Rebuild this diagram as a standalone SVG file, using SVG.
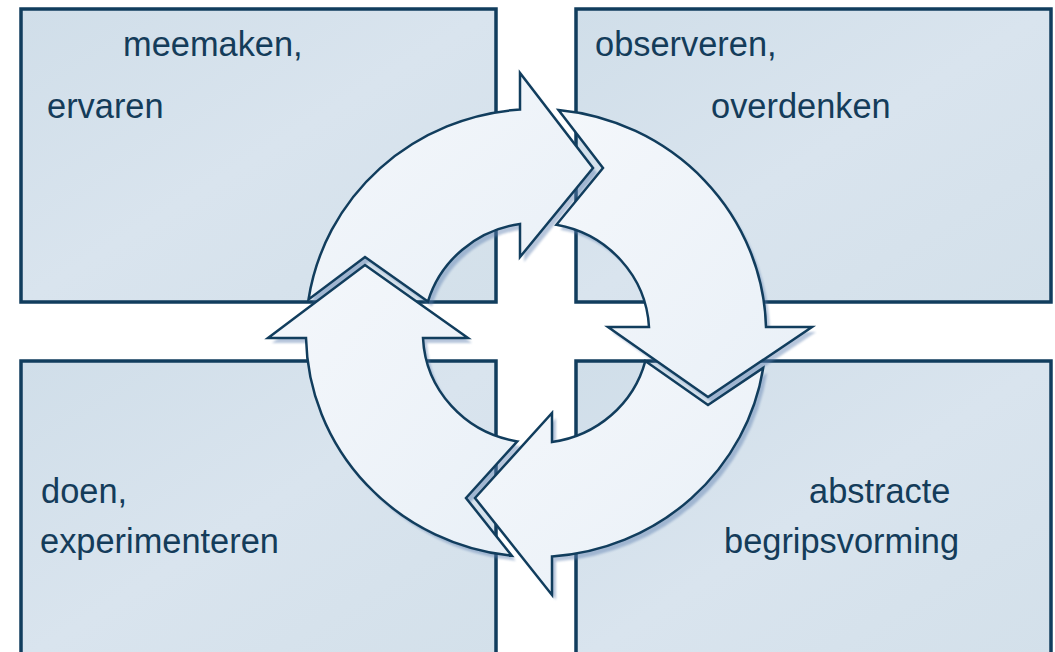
<svg xmlns="http://www.w3.org/2000/svg" width="1055" height="652" viewBox="0 0 1055 652">
  <defs>
    <linearGradient id="boxFill" x1="0" y1="0" x2="1" y2="1">
      <stop offset="0" stop-color="#d0dee9"/>
      <stop offset="0.5" stop-color="#d9e4ee"/>
      <stop offset="1" stop-color="#d3e0ea"/>
    </linearGradient>
    <linearGradient id="arrowFill" x1="0" y1="0" x2="1" y2="1">
      <stop offset="0" stop-color="#f4f7fb"/>
      <stop offset="1" stop-color="#e9f0f7"/>
    </linearGradient>
    <filter id="soft" x="-10%" y="-10%" width="120%" height="120%">
      <feGaussianBlur stdDeviation="1.2"/>
    </filter>
    <style>
      .box { fill: url(#boxFill); stroke: #113d5d; stroke-width: 3.5; }
      .lbl { font-family: "Liberation Sans", Arial, sans-serif; font-size: 34.4px; fill: #143c5a; }
      .arrow { fill: url(#arrowFill); stroke: #113d5d; stroke-width: 2.5; stroke-linejoin: miter; }
      .shadow { fill: #5f80b0; opacity: 0.45; filter: url(#soft); }
    </style>
  </defs>

  <rect width="1055" height="652" fill="#ffffff"/>

  <g id="node-meemaken">
    <rect class="box" x="21" y="9" width="475" height="293"/>
    <text class="lbl" x="123" y="56">meemaken,</text>
    <text class="lbl" x="47" y="118">ervaren</text>
  </g>
  <g id="node-observeren">
    <rect class="box" x="576" y="9" width="475" height="293"/>
    <text class="lbl" x="595" y="56">observeren,</text>
    <text class="lbl" x="711" y="118">overdenken</text>
  </g>
  <g id="node-doen">
    <rect class="box" x="21" y="361" width="475" height="300"/>
    <text class="lbl" x="41" y="503">doen,</text>
    <text class="lbl" x="40" y="553">experimenteren</text>
  </g>
  <g id="node-abstracte">
    <rect class="box" x="576" y="361" width="475" height="300"/>
    <text class="lbl" x="809" y="503">abstracte</text>
    <text class="lbl" x="724" y="553">begripsvorming</text>
  </g>

  <g id="connectors">
    <g id="shadows" transform="translate(4,5)">
      <path class="shadow" d="M 558.5,110 A 230 224 0 0 1 766,327 L 812,327 L 708,397 L 608,327 L 649,327 A 113 110 0 0 0 556.4,224.8 L 603,168 Z"/>
      <path class="shadow" d="M 763.2,367.9 A 230 224 0 0 1 552,556.5 L 552,595 L 475,498 L 552,413 L 552,442 A 113 110 0 0 0 645.3,361.1 L 708,405 Z"/>
      <path class="shadow" d="M 511.8,555.8 A 230 224 0 0 1 306,338 L 268,338 L 365,265 L 468,338 L 423,338 A 113 110 0 0 0 517.3,441.4 L 466,498 Z"/>
      <path class="shadow" d="M 308.5,299.5 A 230 224 0 0 1 520,109.5 L 520,73 L 593,168 L 520,257 L 520,224 A 113 110 0 0 0 427.9,301.6 L 365,257 Z"/>
    </g>
    <path id="arrow-top" class="arrow" d="M 308.5,299.5 A 230 224 0 0 1 520,109.5 L 520,73 L 593,168 L 520,257 L 520,224 A 113 110 0 0 0 427.9,301.6 L 365,257 Z"/>
    <path id="arrow-right" class="arrow" d="M 558.5,110 A 230 224 0 0 1 766,327 L 812,327 L 708,397 L 608,327 L 649,327 A 113 110 0 0 0 556.4,224.8 L 603,168 Z"/>
    <path id="arrow-bottom" class="arrow" d="M 763.2,367.9 A 230 224 0 0 1 552,556.5 L 552,595 L 475,498 L 552,413 L 552,442 A 113 110 0 0 0 645.3,361.1 L 708,405 Z"/>
    <path id="arrow-left" class="arrow" d="M 511.8,555.8 A 230 224 0 0 1 306,338 L 268,338 L 365,265 L 468,338 L 423,338 A 113 110 0 0 0 517.3,441.4 L 466,498 Z"/>
  </g>
</svg>
